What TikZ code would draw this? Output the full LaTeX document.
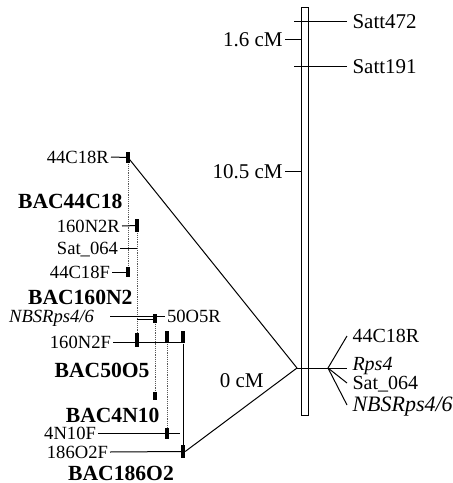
\documentclass[tikz,border=0pt]{standalone}
\usepackage{fontspec}
\setmainfont{Liberation Serif}
\usetikzlibrary{positioning, calc}

\begin{document}
\begin{tikzpicture}[x=0.5pt, y=-0.5pt, line width=0.5pt,
    chrom/.style={draw, inner sep=0pt, minimum width=3.5pt, minimum height=204pt},
    bacend/.style={fill=black, inner sep=0pt, minimum width=1.7pt, minimum height=#1},
    bacend/.default=5.5pt,
    lbl/.style={inner xsep=0.8pt, inner ysep=0pt, text height=6.2pt, text depth=0pt,
                font=\fontsize{9.3}{11}\selectfont, anchor=east},
    rlbl/.style={inner xsep=2.5pt, inner ysep=0pt, text height=7pt, text depth=0pt,
                 font=\fontsize{10.5}{12}\selectfont, anchor=west},
    slbl/.style={rlbl, text height=6.6pt, font=\fontsize{10}{12}\selectfont},
    dist/.style={inner xsep=1pt, inner ysep=0pt, text height=7pt, text depth=0pt,
                 font=\fontsize{10.5}{12}\selectfont, anchor=east},
    baclbl/.style={inner sep=0pt, text height=7.2pt, text depth=0pt,
                   font=\fontsize{10.8}{13}\selectfont\bfseries, anchor=east},
    bacline/.style={draw=black!65, line width=0.4pt, dash pattern=on 0.6pt off 0.5pt}
]
    \useasboundingbox (0,0) rectangle (453,483);

    % linkage group
    \node[chrom] (chr) at (304.5,211) {};
    \node[rlbl] (s472) at (347,21) {Satt472};
    \node[rlbl] (s191) at (347,66) {Satt191};
    \draw (s472.west) -- ([xshift=-3.5pt]chr.west |- s472.west);
    \draw (s191.west) -- ([xshift=-3.5pt]chr.west |- s191.west);
    \node[dist] (d16) at (285,39) {1.6 cM};
    \node[dist] (d105) at (285,171) {10.5 cM};
    \node[dist] (d0) at (266,380) {0 cM};
    \draw (d16.east) -- (d16.east -| chr.west);
    \draw (d105.east) -- (d105.east -| chr.west);

    % Rps4 cluster
    \coordinate (cl) at (297,368);
    \coordinate (cr) at (328,368);
    \node[slbl] (r44) at (347,336) {44C18R};
    \node[slbl] (rps) at (347,364) {\itshape Rps4};
    \node[slbl] (rsat) at (347,383) {Sat\_064};
    \node[slbl, font=\fontsize{11}{13}\selectfont] (rnbs) at (347,405) {\itshape NBSRps4/6};
    \draw (cl) -- (cl -| rps.west);
    \draw (cr) -- (r44.west);
    \draw (cr) -- (rsat.west);
    \draw (cr) -- (rnbs.west);

    % BAC ends
    \node[bacend=5.5pt] (b44r) at (128,157.5) {};
    \node[bacend=5pt] (b44f) at (128,272) {};
    \node[bacend=6.5pt] (b160r) at (137,225.5) {};
    \node[bacend=7pt] (b160f) at (137,340) {};
    \node[bacend=4.5pt] (b50r) at (155,318.5) {};
    \node[bacend=4pt] (b50f) at (155,396) {};
    \node[bacend=6pt] (b4r) at (167,337) {};
    \node[bacend=5.5pt] (b4f) at (167,433.5) {};
    \node[bacend=6pt] (b186r) at (183,337) {};
    \node[bacend=6.5pt] (b186f) at (183,451.5) {};

    \draw[bacline] (b44r) -- (b44f);
    \draw[bacline] (b160r) -- (b160f);
    \draw[bacline] (b50r) -- (b50f);
    \draw[bacline] (b4r) -- (b4f);
    \draw (b186r) -- (b186f);

    % end labels
    \node[lbl] (l44r) at (111,157) {44C18R};
    \node[lbl] (l44f) at (112,272) {44C18F};
    \node[lbl] (l160r) at (122,226) {160N2R};
    \node[lbl] (lsat) at (120,248) {Sat\_064};
    \node[lbl] (lnbs) at (96,316) {\itshape NBSRps4/6};
    \node[lbl, anchor=west] (l50r) at (165,316) {50O5R};
    \node[lbl] (l160f) at (113,342) {160N2F};
    \node[lbl] (l4f) at (98,433) {4N10F};
    \node[lbl] (l186f) at (110,452) {186O2F};

    \draw (l44r.east) -- (b44r);
    \draw (l44f.east) -- (b44f);
    \draw (l160r.east) -- (b160r);
    \draw (lsat.east) -- (lsat.east -| b160r);
    \draw ([xshift=7pt]lnbs.east) -- (lnbs.east -| b50r.west);
    \draw ([yshift=-1.7pt]lnbs.east -| b160r) -- ([yshift=-1.7pt]lnbs.east -| b50r.west);
    \draw (b50r.east |- l50r.west) -- (l50r.west);
    \draw (l160f.east) -- (l160f.east -| b186r.east);
    \draw (l4f.east) -- ([xshift=6.5pt]l4f.east -| b4f);
    \draw (l186f.east) -- (b186f);

    % BAC names
    \node[baclbl] (n44) at (123,201) {BAC44C18};
    \node[baclbl] (n160) at (133,297) {BAC160N2};
    \node[baclbl] (n50) at (150,370) {BAC50O5};
    \node[baclbl] (n4) at (160,415) {BAC4N10};
    \node[baclbl, anchor=center] (n186) at (121,473) {BAC186O2};

    \draw (b44r.center) -- (cl);
    \draw (b186f.east) -- (cl);
\end{tikzpicture}
\end{document}
